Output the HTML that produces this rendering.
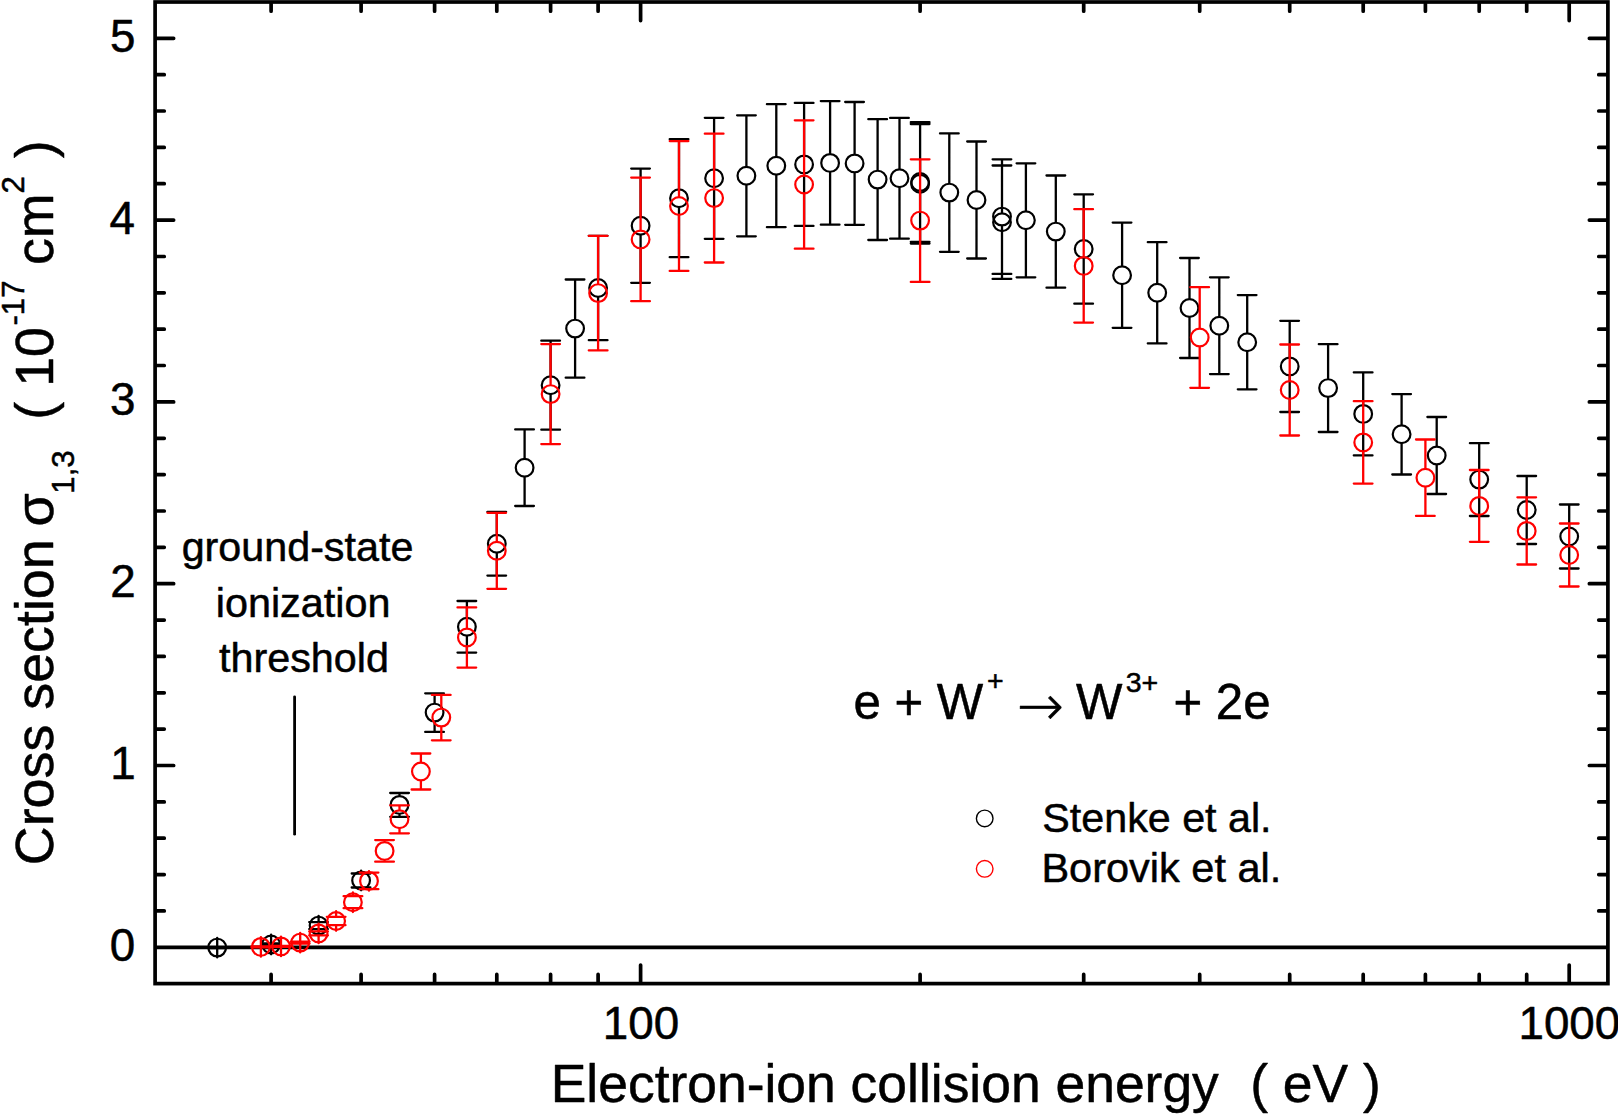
<!DOCTYPE html>
<html><head><meta charset="utf-8"><title>Cross section</title>
<style>html,body{margin:0;padding:0;background:#fff;}body{width:1618px;height:1114px;overflow:hidden;position:relative;font-family:"Liberation Sans",Arial,sans-serif;}</style>
</head><body>
<svg width="1618" height="1114" viewBox="0 0 1618 1114" style="display:block;position:absolute;left:0;top:0" font-family="'Liberation Sans', Arial, sans-serif" fill="#000">
<style>text{stroke:#000;stroke-width:0.5px;stroke-linejoin:round}</style>
<rect width="1618" height="1114" fill="#fff"/>
<path d="M156.95 910.9h7.3M1606.05 910.9h-7.3M156.95 874.6h7.3M1606.05 874.6h-7.3M156.95 838.2h7.3M1606.05 838.2h-7.3M156.95 801.9h7.3M1606.05 801.9h-7.3M156.95 765.5h16.7M1606.05 765.5h-16.7M156.95 729.1h7.3M1606.05 729.1h-7.3M156.95 692.8h7.3M1606.05 692.8h-7.3M156.95 656.4h7.3M1606.05 656.4h-7.3M156.95 620.1h7.3M1606.05 620.1h-7.3M156.95 583.7h16.7M1606.05 583.7h-16.7M156.95 547.3h7.3M1606.05 547.3h-7.3M156.95 511.0h7.3M1606.05 511.0h-7.3M156.95 474.6h7.3M1606.05 474.6h-7.3M156.95 438.3h7.3M1606.05 438.3h-7.3M156.95 401.9h16.7M1606.05 401.9h-16.7M156.95 365.5h7.3M1606.05 365.5h-7.3M156.95 329.2h7.3M1606.05 329.2h-7.3M156.95 292.8h7.3M1606.05 292.8h-7.3M156.95 256.5h7.3M1606.05 256.5h-7.3M156.95 220.1h16.7M1606.05 220.1h-16.7M156.95 183.7h7.3M1606.05 183.7h-7.3M156.95 147.4h7.3M1606.05 147.4h-7.3M156.95 111.0h7.3M1606.05 111.0h-7.3M156.95 74.7h7.3M1606.05 74.7h-7.3M156.95 38.3h16.7M1606.05 38.3h-16.7M271.1 981.75v-7.3M271.1 3.85v7.3M361.1 981.75v-7.3M361.1 3.85v7.3M434.6 981.75v-7.3M434.6 3.85v7.3M496.8 981.75v-7.3M496.8 3.85v7.3M550.6 981.75v-7.3M550.6 3.85v7.3M598.1 981.75v-7.3M598.1 3.85v7.3M640.6 981.75v-16.7M640.6 3.85v16.7M920.1 981.75v-7.3M920.1 3.85v7.3M1083.7 981.75v-7.3M1083.7 3.85v7.3M1199.7 981.75v-7.3M1199.7 3.85v7.3M1289.7 981.75v-7.3M1289.7 3.85v7.3M1363.2 981.75v-7.3M1363.2 3.85v7.3M1425.4 981.75v-7.3M1425.4 3.85v7.3M1479.2 981.75v-7.3M1479.2 3.85v7.3M1526.7 981.75v-7.3M1526.7 3.85v7.3M1569.2 981.75v-16.7M1569.2 3.85v16.7" stroke="#000" stroke-width="3.7" stroke-linecap="round" fill="none"/>
<path d="M155.1 947.3H1607.9" stroke="#000" stroke-width="3.7" fill="none"/>
<rect x="155.1" y="2.0" width="1452.8" height="981.6" stroke="#000" stroke-width="3.7" fill="none"/>
<path d="M294.6 696.8V834.2" stroke="#000" stroke-width="2.8" stroke-linecap="round" fill="none"/>
<path d="M217.2 947.1V937.8M217.2 948.1V957.4M207.9 947.1h18.7M207.9 948.1h18.7M271.1 943.5V934.7M271.1 945.5V954.3M261.7 943.5h18.7M261.7 945.5h18.7M318.6 922.1V915.8M318.6 929.1V935.4M309.2 922.1h18.7M309.2 929.1h18.7M361.1 873.5V870.7M361.1 887.5V890.3M351.7 873.5h18.7M351.7 887.5h18.7M399.5 793.0V795.1M399.5 816.8V814.7M390.2 793.0h18.7M390.2 816.8h18.7M434.6 693.3V702.8M434.6 731.9V722.4M425.2 693.3h18.7M425.2 731.9h18.7M466.9 601.0V617.0M466.9 652.6V636.6M457.5 601.0h18.7M457.5 652.6h18.7M496.8 511.8V533.9M496.8 575.6V553.5M487.4 511.8h18.7M487.4 575.6h18.7M524.6 429.4V457.9M524.6 506.0V477.5M515.2 429.4h18.7M515.2 506.0h18.7M550.6 340.7V375.4M550.6 429.7V395.0M541.3 340.7h18.7M541.3 429.7h18.7M575.1 279.5V318.8M575.1 377.7V338.4M565.7 279.5h18.7M565.7 377.7h18.7M598.1 235.8V278.2M598.1 340.2V297.8M588.8 235.8h18.7M588.8 340.2h18.7M640.6 168.6V215.9M640.6 282.8V235.5M631.2 168.6h18.7M631.2 282.8h18.7M679.0 139.2V188.4M679.0 257.2V208.0M669.7 139.2h18.7M669.7 257.2h18.7M714.1 117.8V168.5M714.1 238.8V188.1M704.8 117.8h18.7M704.8 238.8h18.7M746.4 115.3V166.0M746.4 236.3V185.6M737.1 115.3h18.7M737.1 236.3h18.7M776.3 104.2V155.9M776.3 227.2V175.5M766.9 104.2h18.7M766.9 227.2h18.7M804.1 102.9V154.6M804.1 225.9V174.2M794.8 102.9h18.7M794.8 225.9h18.7M830.1 101.1V153.1M830.1 224.7V172.7M820.8 101.1h18.7M820.8 224.7h18.7M854.6 102.0V153.6M854.6 224.8V173.2M845.2 102.0h18.7M845.2 224.8h18.7M877.6 119.2V169.8M877.6 240.0V189.4M868.3 119.2h18.7M868.3 240.0h18.7M899.5 117.9V168.5M899.5 238.7V188.1M890.1 117.9h18.7M890.1 238.7h18.7M920.1 122.2V172.2M920.1 241.8V191.8M910.8 122.2h18.7M910.8 241.8h18.7M920.1 124.0V174.0M920.1 243.6V193.6M910.8 124.0h18.7M910.8 243.6h18.7M949.3 133.4V182.8M949.3 251.8V202.4M940.0 133.4h18.7M940.0 251.8h18.7M976.5 141.5V190.2M976.5 258.5V209.8M967.2 141.5h18.7M967.2 258.5h18.7M1002.0 159.3V206.8M1002.0 273.9V226.4M992.6 159.3h18.7M992.6 273.9h18.7M1002.0 165.5V212.4M1002.0 278.9V232.0M992.6 165.5h18.7M992.6 278.9h18.7M1025.9 163.3V210.5M1025.9 277.3V230.1M1016.6 163.3h18.7M1016.6 277.3h18.7M1055.8 175.5V221.8M1055.8 287.7V241.4M1046.5 175.5h18.7M1046.5 287.7h18.7M1083.7 194.3V239.2M1083.7 303.7V258.8M1074.3 194.3h18.7M1074.3 303.7h18.7M1122.1 222.6V265.4M1122.1 327.8V285.0M1112.7 222.6h18.7M1112.7 327.8h18.7M1157.2 242.2V283.0M1157.2 343.4V302.6M1147.8 242.2h18.7M1147.8 343.4h18.7M1189.5 258.0V298.2M1189.5 358.0V317.8M1180.1 258.0h18.7M1180.1 358.0h18.7M1219.3 277.3V315.9M1219.3 374.1V335.5M1210.0 277.3h18.7M1210.0 374.1h18.7M1247.2 295.1V332.4M1247.2 389.3V352.0M1237.8 295.1h18.7M1237.8 389.3h18.7M1289.7 320.8V356.6M1289.7 412.0V376.2M1280.3 320.8h18.7M1280.3 412.0h18.7M1328.1 344.2V378.3M1328.1 432.0V397.9M1318.8 344.2h18.7M1318.8 432.0h18.7M1363.2 372.4V404.1M1363.2 455.4V423.7M1353.8 372.4h18.7M1353.8 455.4h18.7M1401.6 394.1V424.5M1401.6 474.5V444.1M1392.3 394.1h18.7M1392.3 474.5h18.7M1436.7 417.0V445.7M1436.7 494.0V465.3M1427.4 417.0h18.7M1427.4 494.0h18.7M1479.2 443.2V469.8M1479.2 516.0V489.4M1469.9 443.2h18.7M1469.9 516.0h18.7M1526.7 476.0V500.2M1526.7 544.0V519.8M1517.4 476.0h18.7M1517.4 544.0h18.7M1569.2 504.5V526.7M1569.2 568.5V546.3M1559.9 504.5h18.7M1559.9 568.5h18.7" stroke="#000" stroke-width="2.3" stroke-linecap="round" fill="none"/>
<g stroke="#000" stroke-width="2.2" fill="none"><circle cx="217.2" cy="947.6" r="8.85"/><circle cx="271.1" cy="944.5" r="8.85"/><circle cx="318.6" cy="925.6" r="8.85"/><circle cx="361.1" cy="880.5" r="8.85"/><circle cx="399.5" cy="804.9" r="8.85"/><circle cx="434.6" cy="712.6" r="8.85"/><circle cx="466.9" cy="626.8" r="8.85"/><circle cx="496.8" cy="543.7" r="8.85"/><circle cx="524.6" cy="467.7" r="8.85"/><circle cx="550.6" cy="385.2" r="8.85"/><circle cx="575.1" cy="328.6" r="8.85"/><circle cx="598.1" cy="288.0" r="8.85"/><circle cx="640.6" cy="225.7" r="8.85"/><circle cx="679.0" cy="198.2" r="8.85"/><circle cx="714.1" cy="178.3" r="8.85"/><circle cx="746.4" cy="175.8" r="8.85"/><circle cx="776.3" cy="165.7" r="8.85"/><circle cx="804.1" cy="164.4" r="8.85"/><circle cx="830.1" cy="162.9" r="8.85"/><circle cx="854.6" cy="163.4" r="8.85"/><circle cx="877.6" cy="179.6" r="8.85"/><circle cx="899.5" cy="178.3" r="8.85"/><circle cx="920.1" cy="182.0" r="8.85"/><circle cx="920.1" cy="183.8" r="8.85"/><circle cx="949.3" cy="192.6" r="8.85"/><circle cx="976.5" cy="200.0" r="8.85"/><circle cx="1002.0" cy="216.6" r="8.85"/><circle cx="1002.0" cy="222.2" r="8.85"/><circle cx="1025.9" cy="220.3" r="8.85"/><circle cx="1055.8" cy="231.6" r="8.85"/><circle cx="1083.7" cy="249.0" r="8.85"/><circle cx="1122.1" cy="275.2" r="8.85"/><circle cx="1157.2" cy="292.8" r="8.85"/><circle cx="1189.5" cy="308.0" r="8.85"/><circle cx="1219.3" cy="325.7" r="8.85"/><circle cx="1247.2" cy="342.2" r="8.85"/><circle cx="1289.7" cy="366.4" r="8.85"/><circle cx="1328.1" cy="388.1" r="8.85"/><circle cx="1363.2" cy="413.9" r="8.85"/><circle cx="1401.6" cy="434.3" r="8.85"/><circle cx="1436.7" cy="455.5" r="8.85"/><circle cx="1479.2" cy="479.6" r="8.85"/><circle cx="1526.7" cy="510.0" r="8.85"/><circle cx="1569.2" cy="536.5" r="8.85"/></g>

<path d="M260.9 946.4V937.1M260.9 947.4V956.7M251.5 946.4h18.7M251.5 947.4h18.7M281.0 945.9V936.6M281.0 946.9V956.2M271.7 945.9h18.7M271.7 946.9h18.7M300.2 941.6V932.8M300.2 943.6V952.4M290.9 941.6h18.7M290.9 943.6h18.7M318.6 931.4V923.6M318.6 935.4V943.2M309.2 931.4h18.7M309.2 935.4h18.7M336.1 916.8V911.2M336.1 925.2V930.8M326.8 916.8h18.7M326.8 925.2h18.7M352.9 896.2V892.4M352.9 908.2V912.0M343.6 896.2h18.7M343.6 908.2h18.7M369.0 872.6V871.1M369.0 889.2V890.7M359.7 872.6h18.7M359.7 889.2h18.7M384.6 840.1V841.1M384.6 861.7V860.7M375.2 840.1h18.7M375.2 861.7h18.7M399.5 805.3V809.5M399.5 833.3V829.1M390.2 805.3h18.7M390.2 833.3h18.7M420.9 753.5V761.7M420.9 789.5V781.3M411.6 753.5h18.7M411.6 789.5h18.7M441.3 694.9V707.8M441.3 740.3V727.4M431.9 694.9h18.7M431.9 740.3h18.7M466.9 607.4V627.7M466.9 667.6V647.3M457.5 607.4h18.7M457.5 667.6h18.7M496.8 512.8V541.0M496.8 588.8V560.6M487.4 512.8h18.7M487.4 588.8h18.7M550.6 344.1V384.3M550.6 444.1V403.9M541.3 344.1h18.7M541.3 444.1h18.7M598.1 235.8V283.3M598.1 350.4V302.9M588.8 235.8h18.7M588.8 350.4h18.7M640.6 177.6V229.6M640.6 301.2V249.2M631.2 177.6h18.7M631.2 301.2h18.7M679.0 141.1V196.2M679.0 270.9V215.8M669.7 141.1h18.7M669.7 270.9h18.7M714.1 133.7V188.3M714.1 262.5V207.9M704.8 133.7h18.7M704.8 262.5h18.7M804.1 120.3V174.7M804.1 248.7V194.3M794.8 120.3h18.7M794.8 248.7h18.7M920.1 159.3V210.8M920.1 281.9V230.4M910.8 159.3h18.7M910.8 281.9h18.7M1083.7 209.2V256.1M1083.7 322.6V275.7M1074.3 209.2h18.7M1074.3 322.6h18.7M1199.7 287.2V327.7M1199.7 387.8V347.3M1190.3 287.2h18.7M1190.3 387.8h18.7M1289.7 344.5V380.2M1289.7 435.5V399.8M1280.3 344.5h18.7M1280.3 435.5h18.7M1363.2 401.2V432.6M1363.2 483.6V452.2M1353.8 401.2h18.7M1353.8 483.6h18.7M1425.4 439.5V467.9M1425.4 515.9V487.5M1416.0 439.5h18.7M1416.0 515.9h18.7M1479.2 470.0V496.1M1479.2 541.8V515.7M1469.9 470.0h18.7M1469.9 541.8h18.7M1526.7 497.3V521.1M1526.7 564.5V540.7M1517.4 497.3h18.7M1517.4 564.5h18.7M1569.2 523.5V545.2M1569.2 586.5V564.8M1559.9 523.5h18.7M1559.9 586.5h18.7" stroke="#f00" stroke-width="2.3" stroke-linecap="round" fill="none"/>
<g stroke="#f00" stroke-width="2.2" fill="none"><circle cx="260.9" cy="946.9" r="8.85"/><circle cx="281.0" cy="946.4" r="8.85"/><circle cx="300.2" cy="942.6" r="8.85"/><circle cx="318.6" cy="933.4" r="8.85"/><circle cx="336.1" cy="921.0" r="8.85"/><circle cx="352.9" cy="902.2" r="8.85"/><circle cx="369.0" cy="880.9" r="8.85"/><circle cx="384.6" cy="850.9" r="8.85"/><circle cx="399.5" cy="819.3" r="8.85"/><circle cx="420.9" cy="771.5" r="8.85"/><circle cx="441.3" cy="717.6" r="8.85"/><circle cx="466.9" cy="637.5" r="8.85"/><circle cx="496.8" cy="550.8" r="8.85"/><circle cx="550.6" cy="394.1" r="8.85"/><circle cx="598.1" cy="293.1" r="8.85"/><circle cx="640.6" cy="239.4" r="8.85"/><circle cx="679.0" cy="206.0" r="8.85"/><circle cx="714.1" cy="198.1" r="8.85"/><circle cx="804.1" cy="184.5" r="8.85"/><circle cx="920.1" cy="220.6" r="8.85"/><circle cx="1083.7" cy="265.9" r="8.85"/><circle cx="1199.7" cy="337.5" r="8.85"/><circle cx="1289.7" cy="390.0" r="8.85"/><circle cx="1363.2" cy="442.4" r="8.85"/><circle cx="1425.4" cy="477.7" r="8.85"/><circle cx="1479.2" cy="505.9" r="8.85"/><circle cx="1526.7" cy="530.9" r="8.85"/><circle cx="1569.2" cy="555.0" r="8.85"/></g>

<circle cx="984.7" cy="818.4" r="8.3" stroke="#000" stroke-width="1.4" fill="none"/>
<circle cx="984.7" cy="868.8" r="8.3" stroke="#f00" stroke-width="1.4" fill="none"/>
<text x="550.73" y="1102.20" font-size="53.43" font-family="'Liberation Sans', Arial, sans-serif" xml:space="preserve">Electron-ion collision energy</text>
<text x="1250.20" y="1102.20" font-size="53.43" font-family="'Liberation Sans', Arial, sans-serif" xml:space="preserve">( eV )</text>
<text x="1042.34" y="832.20" font-size="41.24" font-family="'Liberation Sans', Arial, sans-serif" xml:space="preserve">Stenke et al.</text>
<text x="1041.38" y="882.30" font-size="41.52" font-family="'Liberation Sans', Arial, sans-serif" xml:space="preserve">Borovik et al.</text>
<text x="181.65" y="560.60" font-size="41.28" font-family="'Liberation Sans', Arial, sans-serif" xml:space="preserve">ground-state</text>
<text x="215.71" y="616.50" font-size="41.37" font-family="'Liberation Sans', Arial, sans-serif" xml:space="preserve">ionization</text>
<text x="218.98" y="671.90" font-size="41.34" font-family="'Liberation Sans', Arial, sans-serif" xml:space="preserve">threshold</text>
<text x="853.38" y="718.90" font-size="49.23" font-family="'Liberation Sans', Arial, sans-serif" xml:space="preserve">e + W</text>
<text x="986.97" y="690.40" font-size="28.55" font-family="'Liberation Sans', Arial, sans-serif" xml:space="preserve">+</text>
<text x="1076.05" y="718.90" font-size="49.23" font-family="'Liberation Sans', Arial, sans-serif" xml:space="preserve">W</text>
<text x="1125.65" y="691.60" font-size="28.55" font-family="'Liberation Sans', Arial, sans-serif" xml:space="preserve">3+</text>
<text x="1173.40" y="718.90" font-size="49.23" font-family="'Liberation Sans', Arial, sans-serif" xml:space="preserve">+ 2e</text>
<text x="1016.97" y="725.40" font-size="56.11" font-family="'DejaVu Sans Light', 'DejaVu Sans', sans-serif">→</text>
<text x="602.87" y="1039.30" font-size="45.79" font-family="'Liberation Sans', Arial, sans-serif" xml:space="preserve">100</text>
<text x="1518.45" y="1039.30" font-size="45.79" font-family="'Liberation Sans', Arial, sans-serif" xml:space="preserve">1000</text>
<text x="109.65" y="960.80" font-size="45.79" font-family="'Liberation Sans', Arial, sans-serif">0</text>
<text x="110.15" y="779.00" font-size="45.79" font-family="'Liberation Sans', Arial, sans-serif">1</text>
<text x="110.15" y="597.20" font-size="45.79" font-family="'Liberation Sans', Arial, sans-serif">2</text>
<text x="109.90" y="415.40" font-size="45.79" font-family="'Liberation Sans', Arial, sans-serif">3</text>
<text x="109.40" y="233.60" font-size="45.79" font-family="'Liberation Sans', Arial, sans-serif">4</text>
<text x="109.90" y="51.80" font-size="45.79" font-family="'Liberation Sans', Arial, sans-serif">5</text>
<text transform="translate(53.00 865.19) rotate(-90)" font-size="53.80" font-family="'Liberation Sans', Arial, sans-serif" xml:space="preserve">Cross section</text>
<text transform="translate(53.00 526.58) rotate(-90)" font-size="53.80" font-family="'Liberation Sans', Arial, sans-serif" xml:space="preserve">σ</text>
<text transform="translate(74.00 493.70) rotate(-90)" font-size="31.21" font-family="'Liberation Sans', Arial, sans-serif" xml:space="preserve">1,3</text>
<text transform="translate(53.00 419.73) rotate(-90)" font-size="53.80" font-family="'Liberation Sans', Arial, sans-serif" xml:space="preserve">( 10</text>
<text transform="translate(23.70 325.55) rotate(-90)" font-size="31.21" font-family="'Liberation Sans', Arial, sans-serif" xml:space="preserve">-17</text>
<text transform="translate(53.00 265.10) rotate(-90)" font-size="53.80" font-family="'Liberation Sans', Arial, sans-serif" xml:space="preserve">cm</text>
<text transform="translate(23.70 193.43) rotate(-90)" font-size="31.21" font-family="'Liberation Sans', Arial, sans-serif" xml:space="preserve">2</text>
<text transform="translate(53.00 158.20) rotate(-90)" font-size="53.80" font-family="'Liberation Sans', Arial, sans-serif" xml:space="preserve">)</text>
</svg>
</body></html>
